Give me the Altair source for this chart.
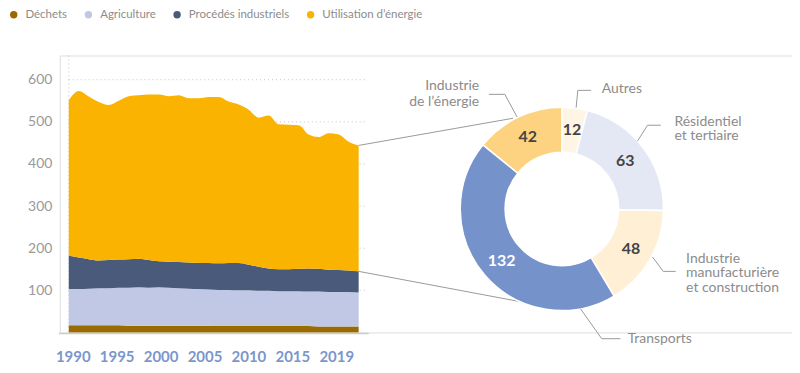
import altair as alt
import pandas as pd

# ---------------- data ----------------
years = list(range(1990, 2020))
dechets = [17, 17, 17, 17, 17, 17, 16, 16, 16, 16, 16, 16, 16, 16, 16,
           15, 15, 15, 15, 15, 15, 15, 15, 15, 15, 14, 14, 14, 14, 14]
agriculture = [86, 86, 87, 88, 88, 89, 90, 91, 90, 91, 90, 89, 88, 87, 86,
               86, 86, 85, 85, 84, 84, 83, 83, 83, 82, 83, 82, 82, 82, 81]
procedes = [79, 75, 70, 66, 67, 67, 68, 68, 66, 62, 62, 62, 62, 62, 63,
            63, 64, 65, 61, 57, 53, 52, 52, 53, 55, 54, 53, 52, 51, 50]
energie = [369, 395, 386, 376, 368, 377, 387, 388, 393, 396, 393, 396, 390, 391, 394,
           395, 383, 376, 368, 354, 363, 344, 343, 341, 318, 313, 324, 322, 306, 299]

series_names = ["Déchets", "Agriculture", "Procédés industriels", "Utilisation d’énergie"]
series_values = [dechets, agriculture, procedes, energie]
series_colors = ["#9a6b00", "#c0c8e6", "#4a5a7a", "#f9b300"]

y_ticks = [100, 200, 300, 400, 500, 600]
x_labels = ["1990", "1995", "2000", "2005", "2010", "2015", "2019"]

sectors = ["Autres", "Résidentiel et tertiaire", "Industrie manufacturière et construction",
           "Transports", "Industrie de l’énergie"]
sector_values = [12, 63, 48, 132, 42]
sector_colors = ["#fff5e4", "#e4e8f5", "#fff0d5", "#7692cb", "#fdd382"]
sector_text_colors = ["#444444", "#444444", "#444444", "#ffffff", "#444444"]
sector_labels = [["Autres"], ["Résidentiel", "et tertiaire"],
                 ["Industrie", "manufacturière", "et construction"],
                 ["Transports"], ["Industrie", "de l’énergie"]]

# ---------------- tables ----------------
rows = []
for i, (name, vals) in enumerate(zip(series_names, series_values)):
    for yr, v in zip(years, vals):
        rows.append({"year": yr, "value": v, "serie": name, "idx": i})
df = pd.DataFrame(rows)

donut_df = pd.DataFrame({"sector": sectors, "value": sector_values, "idx": list(range(len(sectors))),
                         "fill": sector_colors, "tcolor": sector_text_colors})
grid_df = pd.DataFrame({"v": y_ticks})
lab_df = pd.DataFrame({"lab": x_labels})
one = pd.DataFrame({"a": [0]})

last_total = sum(s[-1] for s in series_values)
last_nonenergy = sum(s[-1] for s in series_values[:3])

FONT = "Lato"
GREY = "#8c8c8c"

xscale = alt.Scale(domain=[years[0], years[-1]], range=[9, 300], nice=False, zero=False)
yscale = alt.Scale(domain=[0, 657.5], nice=False, zero=True)
yaxis = alt.Axis(values=y_ticks, labelFont=FONT, labelFontSize=14, labelColor="#999999",
                 labelPadding=8, ticks=False, domain=False, grid=False, title=None)
xaxis = alt.Axis(labelFont=FONT, labelFontWeight="bold", labelAngle=0,
                 labelFontSize=15, labelColor="#7b96cc", labelPadding=17, ticks=False,
                 domain=False, grid=False, title=None, labelOverlap=False)

# ---------------- layers ----------------
grid = alt.Chart(grid_df).mark_rule(strokeDash=[1, 3], color="#c4c4c4", strokeWidth=1).encode(
    y=alt.Y("v:Q", scale=yscale, axis=yaxis),
    x=alt.value(9), x2=alt.value(307))

vgrid = alt.Chart(one).mark_rule(strokeDash=[1, 3], color="#c4c4c4", strokeWidth=1).encode(
    x=alt.value(9), y=alt.value(0), y2=alt.value(278))

area = alt.Chart(df).mark_area(interpolate="monotone", opacity=1).encode(
    x=alt.X("year:Q", scale=xscale, axis=None),
    y=alt.Y("value:Q", stack="zero", scale=yscale, axis=yaxis),
    color=alt.Color("serie:N", scale=alt.Scale(domain=series_names, range=series_colors),
                    legend=alt.Legend(title=None, orient="none", legendX=-52, legendY=-47,
                                      direction="horizontal", columns=4, symbolType="circle",
                                      symbolSize=55, symbolStrokeWidth=0, symbolOpacity=1,
                                      labelFont=FONT, labelFontSize=11.5, labelColor=GREY,
                                      labelOffset=6, columnPadding=15)),
    order=alt.Order("idx:Q"))

baseline = alt.Chart(one).mark_rule(color="#cccccc", strokeWidth=1.5).encode(
    x=alt.value(-1), x2=alt.value(310), y=alt.value(279))

conn_up = alt.Chart(one).mark_rule(color="#9a9a9a", strokeWidth=1).encode(
    x=alt.X(datum=years[-1], scale=xscale, axis=None), y=alt.datum(last_total),
    x2=alt.value(455), y2=alt.value(63))
conn_low = alt.Chart(one).mark_rule(color="#9a9a9a", strokeWidth=1).encode(
    x=alt.X(datum=years[-1], scale=xscale, axis=None), y=alt.datum(last_nonenergy),
    x2=alt.value(467), y2=alt.value(248))

# evenly spaced year labels, as in the original layout
label_axis = alt.Chart(lab_df).mark_point(opacity=0).encode(
    x=alt.X("lab:O", sort=None, scale=alt.Scale(type="point", range=[13, 277.5], padding=0),
            axis=xaxis))

CX, CY = 504, 154
arc = alt.Chart(donut_df).mark_arc(outerRadius=102, innerRadius=57, stroke="white",
                                   strokeWidth=1.5).encode(
    theta=alt.Theta("value:Q", stack=True),
    order=alt.Order("idx:Q"),
    fill=alt.Fill("fill:N", scale=None),
    x=alt.value(CX), y=alt.value(CY))

arc_text = alt.Chart(donut_df).mark_text(radius=80, font=FONT, fontWeight="bold",
                                         fontSize=16).encode(
    theta=alt.Theta("value:Q", stack=True),
    order=alt.Order("idx:Q"),
    text=alt.Text("value:Q"),
    fill=alt.Fill("tcolor:N", scale=None),
    x=alt.value(CX), y=alt.value(CY))

# leader lines (polyline points in px) and label anchors (first line)
leaders = [
    [(518.3, 52.3), (520, 35), (533.3, 35)],
    [(580, 85.7), (590, 70), (603.3, 70)],
    [(595, 202.3), (605.7, 216.7), (618.3, 216.7)],
    [(522.7, 254.3), (544, 284.3), (562.7, 284.3)],
    [(459, 61.7), (446.7, 39), (430.7, 39)],
]
anchors = [(544, 34, "left", 15), (617, 66.7, "left", 14.5), (628.7, 204, "left", 14.7),
           (570, 284.3, "left", 15), (421, 30.7, "right", 16.5)]

inner = [grid, vgrid, area, baseline, conn_up, conn_low, arc, arc_text]
for pts in leaders:
    for (x1, y1), (x2, y2) in zip(pts[:-1], pts[1:]):
        inner.append(alt.Chart(one).mark_rule(color="#9a9a9a", strokeWidth=1).encode(
            x=alt.value(x1), y=alt.value(y1), x2=alt.value(x2), y2=alt.value(y2)))
for lab, (ax, ay, al, lh) in zip(sector_labels, anchors):
    inner.append(alt.Chart(one).mark_text(text=lab, align=al, baseline="middle", font=FONT,
                                          fontSize=14, color=GREY, lineHeight=lh).encode(
        x=alt.value(ax), y=alt.value(ay)))

main = alt.layer(*inner)

chart = alt.layer(main, label_axis).resolve_scale(x="independent").properties(
    width=735, height=278,
    padding={"left": 52, "top": 47, "right": 0, "bottom": 32},
    autosize=alt.AutoSizeParams(type="none"),
).configure_view(strokeWidth=0).configure(font=FONT)

chart.save("out.html", embed_options={"renderer": "svg", "actions": False})
